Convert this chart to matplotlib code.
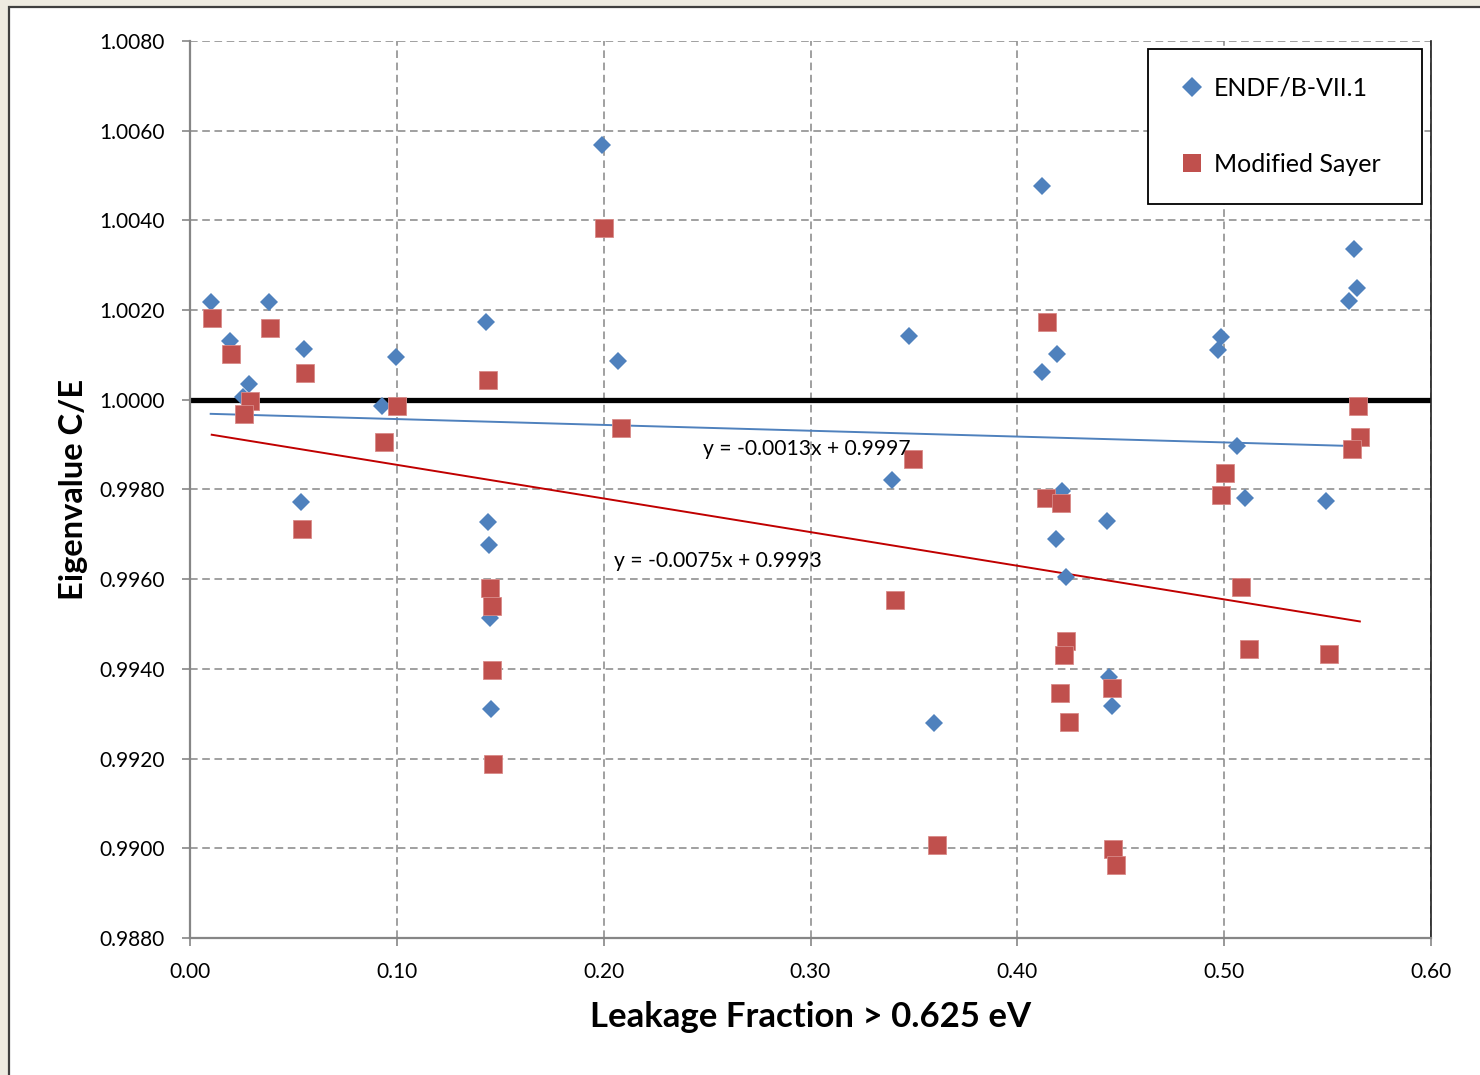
import numpy as np
import matplotlib
matplotlib.use("Agg")
import matplotlib.pyplot as plt
from matplotlib.lines import Line2D
from matplotlib.patches import Rectangle

plt.rcParams['font.family'] = ['Lato', 'DejaVu Sans']

# ---------------- data ----------------
endf_x = [0.0100, 0.0193, 0.0287, 0.0255, 0.0382, 0.0553, 0.0994, 0.0928, 0.0535,
          0.1433, 0.1439, 0.1448, 0.1450, 0.1455, 0.1992, 0.2069,
          0.3393, 0.3477, 0.3597,
          0.4118, 0.4190, 0.4118, 0.4218, 0.4185, 0.4233, 0.4435, 0.4443, 0.4456,
          0.4985, 0.4969, 0.5064, 0.5100, 0.5490, 0.5628, 0.5640, 0.5603]
endf_y = [1.00217, 1.00132, 1.00035, 1.00007, 1.00219, 1.00114, 1.00095, 0.99987, 0.99773,
          1.00174, 0.99728, 0.99676, 0.99513, 0.99311, 1.00568, 1.00087,
          0.99822, 1.00143, 0.99279,
          1.00477, 1.00102, 1.00062, 0.99797, 0.99689, 0.99606, 0.99730, 0.99383, 0.99318,
          1.00141, 1.00111, 0.99898, 0.99782, 0.99775, 1.00336, 1.00250, 1.00220]

sayer_x = [0.0105, 0.0197, 0.0290, 0.0261, 0.0387, 0.0557, 0.1002, 0.0938, 0.0540,
           0.1442, 0.1450, 0.1460, 0.1460, 0.1465, 0.2002, 0.2084,
           0.3409, 0.3494, 0.3613,
           0.4142, 0.4137, 0.4210, 0.4236, 0.4225, 0.4206, 0.4251, 0.4456, 0.4462, 0.4476,
           0.5004, 0.4986, 0.5081, 0.5118, 0.5508, 0.5645, 0.5656, 0.5619]
sayer_y = [1.00182, 1.00102, 0.99998, 0.99968, 1.00159, 1.00060, 0.99986, 0.99905, 0.99711,
           1.00044, 0.99580, 0.99540, 0.99398, 0.99187, 1.00383, 0.99937,
           0.99553, 0.99868, 0.99008,
           1.00173, 0.99780, 0.99771, 0.99462, 0.99430, 0.99346, 0.99282, 0.99357, 0.98999, 0.98962,
           0.99837, 0.99788, 0.99583, 0.99444, 0.99433, 0.99986, 0.99916, 0.99890]

series_names = ["ENDF/B-VII.1", "Modified Sayer"]
trend_slope = [-0.0013, -0.0075]
trend_intercept = [0.9997, 0.9993]
trend_labels = ["y = -0.0013x + 0.9997", "y = -0.0075x + 0.9993"]

x_ticks = [0.0, 0.1, 0.2, 0.3, 0.4, 0.5, 0.6]
y_ticks = [0.9880, 0.9900, 0.9920, 0.9940, 0.9960, 0.9980, 1.0000,
           1.0020, 1.0040, 1.0060, 1.0080]
x_label = "Leakage Fraction > 0.625 eV"
y_label = "Eigenvalue C/E"

# ---------------- style ----------------
BLUE = "#4F81BD"
RED = "#C0504D"
GRID = "#868686"

fig = plt.figure(figsize=(14.8, 10.75), dpi=100)
fig.patch.set_facecolor("#EEEBE1")
bg = Rectangle((9 / 1480, -0.01), 1.02, 1 - 7 / 1075 + 0.01,
               transform=fig.transFigure, facecolor="white",
               edgecolor="#3F3F3F", linewidth=1.6, zorder=-10)
fig.patches.append(bg)

ax = fig.add_axes([190 / 1480, 1 - 938 / 1075, (1431 - 190) / 1480, (938 - 41) / 1075])
ax.set_zorder(5)
ax.set_facecolor("white")
ax.set_xlim(0.0, 0.6)
ax.set_ylim(0.9880, 1.0080)
ax.set_xticks(x_ticks)
ax.set_yticks(y_ticks)
ax.set_xticklabels([f"{v:.2f}" for v in x_ticks])
ax.set_yticklabels([f"{v:.4f}" for v in y_ticks])

ax.grid(True, color=GRID, linestyle=(0, (5, 3)), linewidth=1.1, zorder=0)
ax.set_axisbelow(True)

for s in ["left", "bottom"]:
    ax.spines[s].set_color(GRID)
    ax.spines[s].set_linewidth(1.6)
ax.spines["top"].set_visible(False)
ax.spines["right"].set_color("#202020")
ax.spines["right"].set_linewidth(1.2)

ax.tick_params(axis="both", colors=GRID, length=6, width=1.2, direction="out",
               labelcolor="black", labelsize=15)
ax.tick_params(axis="y", pad=12)
ax.tick_params(axis="x", pad=11)

# reference line at 1.0
ax.axhline(1.0, color="black", linewidth=3.8, zorder=2)

# trendlines
xmins = [min(endf_x), min(sayer_x)]
xmaxs = [max(endf_x), max(sayer_x)]
tcolors = [BLUE, "#C00000"]
for sl, ic, x0, x1, c in zip(trend_slope, trend_intercept, xmins, xmaxs, tcolors):
    xx = np.array([x0, x1])
    ax.plot(xx, sl * xx + ic, color=c, linewidth=1.4, zorder=3)

# scatter points
ax.plot(endf_x, endf_y, linestyle="none", marker="D", markersize=9.2,
        color=BLUE, markeredgewidth=0, zorder=4)
ax.plot(sayer_x, sayer_y, linestyle="none", marker="s", markersize=13,
        color=RED, markeredgecolor="#D98A88", markeredgewidth=0.6, zorder=5)

# trendline equations
ax.text(0.2480, 0.99890, trend_labels[0], fontsize=15.2, ha="left", va="center", zorder=6)
ax.text(0.2050, 0.99641, trend_labels[1], fontsize=15.2, ha="left", va="center", zorder=6)

ax.set_xlabel(x_label, fontsize=25, fontweight="bold", labelpad=14)
ax.set_ylabel(y_label, fontsize=23.5, fontweight="bold", labelpad=8)

handles = [Line2D([], [], linestyle="none", marker="D", markersize=10.5, color=BLUE,
                  markeredgewidth=0),
           Line2D([], [], linestyle="none", marker="s", markersize=13, color=RED,
                  markeredgewidth=0)]
leg = ax.legend(handles, series_names, loc="upper left",
                bbox_to_anchor=((1148 - 190) / 1241, (938 - 49) / 897, (1422 - 1148) / 1241, 0.0),
                mode="expand", borderaxespad=0, fontsize=18, frameon=True, fancybox=False,
                edgecolor="black", handlelength=1.25, handletextpad=0.25,
                borderpad=1.12, labelspacing=2.12)
leg.get_frame().set_linewidth(1.3)
leg.get_frame().set_facecolor("white")
leg.get_frame().set_alpha(1)
leg.set_zorder(10)

fig.savefig("out.png", dpi=100, facecolor=fig.get_facecolor())
